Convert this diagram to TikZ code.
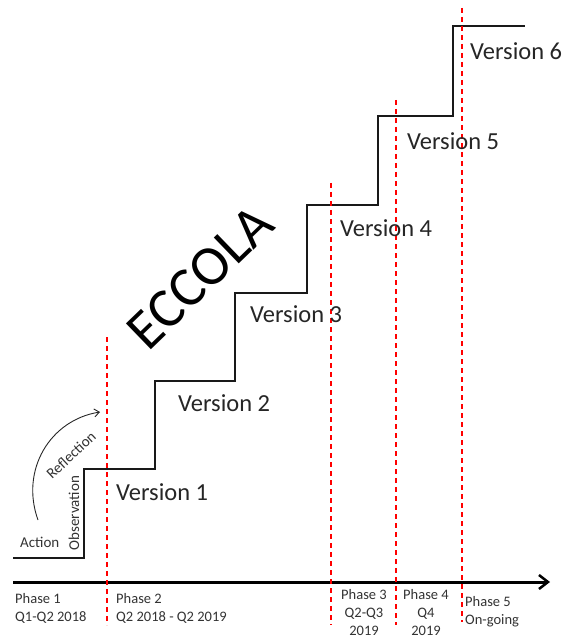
\documentclass[tikz,border=0pt]{standalone}
\usepackage{fontspec}
\setmainfont{Carlito}
\usetikzlibrary{arrows.meta}
\begin{document}
\begin{tikzpicture}[x=1pt,y=-1pt,
  stair/.style={line width=2pt,black!90},
  phaseline/.style={red,line width=1.1pt,dash pattern=on 5pt off 4pt},
  verlabel/.style={font=\fontsize{24.5}{26}\selectfont,text=black!85,anchor=west,inner sep=0pt},
  small/.style={font=\fontsize{15}{17}\selectfont,text=black!80,inner sep=0pt},
  phaselabel/.style={font=\fontsize{14.5}{18}\selectfont,text=black!80,inner sep=0pt,align=left,anchor=north west}]
\useasboundingbox (0,0) rectangle (572,636);
% staircase
\coordinate (s0) at (13,558);
\coordinate (s1) at (84,558);
\coordinate (s2) at (84,469);
\coordinate (s3) at (155,469);
\coordinate (s4) at (155,381);
\coordinate (s5) at (235,381);
\coordinate (s6) at (235,293);
\coordinate (s7) at (307,293);
\coordinate (s8) at (307,205);
\coordinate (s9) at (378,205);
\coordinate (s10) at (378,116);
\coordinate (s11) at (453,116);
\coordinate (s12) at (453,26);
\coordinate (s13) at (525,26);
\draw[stair] (s0) -- (s1) -- (s2) -- (s3) -- (s4) -- (s5) -- (s6) -- (s7) -- (s8) -- (s9) -- (s10) -- (s11) -- (s12) -- (s13);
% axis
\coordinate (a0) at (13,582);
\coordinate (a1) at (550,582);
\draw[line width=3pt,-{Straight Barb[length=9pt,width=14pt,line width=2.5pt]}] (a0) -- (a1);
% phase lines
\coordinate (p1t) at (107,337); \coordinate (p1b) at (107,625);
\coordinate (p3t) at (331,183); \coordinate (p3b) at (331,625);
\coordinate (p4t) at (396,100); \coordinate (p4b) at (396,625);
\coordinate (p5t) at (462,8);  \coordinate (p5b) at (462,622);
\draw[phaseline] (p1t) -- (p1b);
\draw[phaseline] (p3t) -- (p3b);
\draw[phaseline] (p4t) -- (p4b);
\draw[phaseline] (p5t) -- (p5b);
% version labels
\node[verlabel] (v1) at (116,492) {Version 1};
\node[verlabel] (v2) at (178,403) {Version 2};
\node[verlabel] (v3) at (250,314) {Version 3};
\node[verlabel] (v4) at (340,228) {Version 4};
\node[verlabel] (v5) at (407,141) {Version 5};
\node[verlabel] (v6) at (470,51) {Version 6};
% ECCOLA
\node[font=\fontsize{56}{60}\selectfont,rotate=44,inner sep=0pt] (ecc) at (200,277) {ECCOLA};
% cycle labels
\node[small,anchor=west] (act) at (20,542) {Action};
\node[small,rotate=90] (obs) at (74,513) {Observation};
\node[small,rotate=43] (ref) at (71,455) {Reflection};
\coordinate (c0) at (38,520);
\coordinate (c1) at (100,412);
\draw[line width=0.9pt,black!85,-{Straight Barb[length=5pt,width=8pt]}] (c0) .. controls (20,470) and (50,420) .. (c1);
% phase labels
\node[phaselabel] (ph1) at (15,593) {Phase 1\\Q1-Q2 2018};
\node[phaselabel] (ph2) at (116,593) {Phase 2\\Q2 2018 - Q2 2019};
\node[phaselabel,align=center,anchor=north] (ph3) at (364,589) {Phase 3\\Q2-Q3\\2019};
\node[phaselabel,align=center,anchor=north] (ph4) at (426,589) {Phase 4\\Q4\\2019};
\node[phaselabel] (ph5) at (465,596) {Phase 5\\On-going};
\end{tikzpicture}
\end{document}
